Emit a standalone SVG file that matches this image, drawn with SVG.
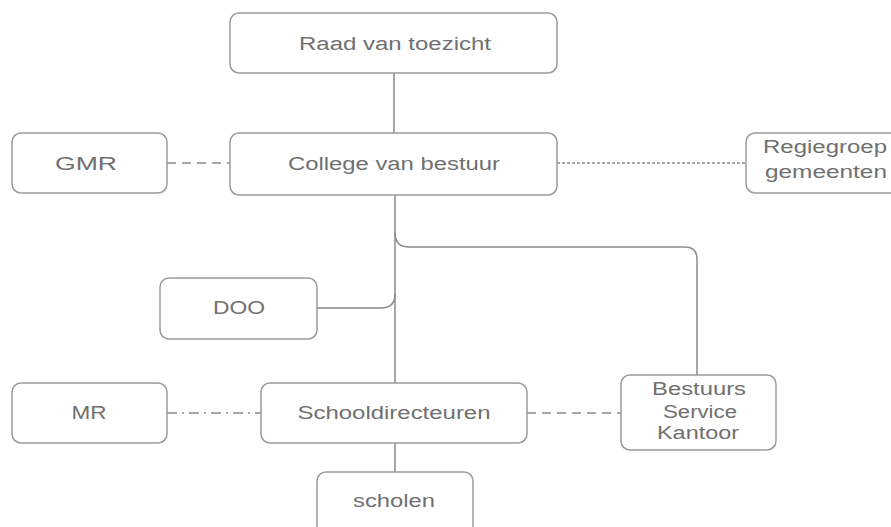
<svg xmlns="http://www.w3.org/2000/svg" width="891" height="527" viewBox="0 0 891 527">
<style>
.box{fill:#fff;stroke:#9a9a9a;stroke-width:1.5}
.lbl{font-family:"Liberation Sans",Arial,sans-serif;font-size:18px;fill:#707070;text-anchor:middle}
.ln{fill:none;stroke:#8a8a8a;stroke-width:1.5}
</style>
<rect width="891" height="527" fill="#fff"/>
<g id="connectors">
<path class="ln" d="M394 73 V133"/>
<path class="ln" d="M395 195 V383"/>
<path class="ln" d="M395 233 Q395 247 409 247 H685 Q697 247 697 259 V375"/>
<path class="ln" d="M317 308 H381 Q395 308 395 294"/>
<path class="ln" d="M395 443 V472"/>
<path class="ln" d="M167 163 H230" stroke-dasharray="9,6"/>
<path class="ln" d="M557 163 H745" stroke-dasharray="3,2"/>
<path class="ln" d="M167 413 H261" stroke-dasharray="10,5,2,5"/>
<path class="ln" d="M527 413 H621" stroke-dasharray="9,6"/>
</g>
<g id="raad"><rect class="box" x="230" y="13" width="327" height="60" rx="9"/><text class="lbl" x="395" y="50" textLength="192" lengthAdjust="spacingAndGlyphs">Raad van toezicht</text></g>
<g id="college"><rect class="box" x="230" y="133" width="327" height="62" rx="9"/><text class="lbl" x="394" y="170" textLength="212" lengthAdjust="spacingAndGlyphs">College van bestuur</text></g>
<g id="gmr"><rect class="box" x="12" y="133" width="155" height="60" rx="9"/><text class="lbl" x="86" y="170" textLength="62" lengthAdjust="spacingAndGlyphs">GMR</text></g>
<g id="regiegroep"><rect class="box" x="746" y="133" width="155" height="60" rx="9"/><text class="lbl" x="825" y="153" textLength="124" lengthAdjust="spacingAndGlyphs">Regiegroep</text><text class="lbl" x="826" y="178" textLength="122" lengthAdjust="spacingAndGlyphs">gemeenten</text></g>
<g id="doo"><rect class="box" x="160" y="278" width="157" height="61" rx="9"/><text class="lbl" x="239" y="314" textLength="52" lengthAdjust="spacingAndGlyphs">DOO</text></g>
<g id="mr"><rect class="box" x="12" y="383" width="155" height="60" rx="9"/><text class="lbl" x="89" y="419" textLength="35" lengthAdjust="spacingAndGlyphs">MR</text></g>
<g id="schooldirecteuren"><rect class="box" x="261" y="383" width="266" height="60" rx="9"/><text class="lbl" x="394" y="419" textLength="193" lengthAdjust="spacingAndGlyphs">Schooldirecteuren</text></g>
<g id="bsk"><rect class="box" x="621" y="375" width="155" height="75" rx="9"/><text class="lbl" x="699" y="395" textLength="94" lengthAdjust="spacingAndGlyphs">Bestuurs</text><text class="lbl" x="700" y="418" textLength="74" lengthAdjust="spacingAndGlyphs">Service</text><text class="lbl" x="698" y="439" textLength="82" lengthAdjust="spacingAndGlyphs">Kantoor</text></g>
<g id="scholen"><rect class="box" x="317" y="472" width="156" height="70" rx="9"/><text class="lbl" x="394" y="507" textLength="82" lengthAdjust="spacingAndGlyphs">scholen</text></g>
</svg>
